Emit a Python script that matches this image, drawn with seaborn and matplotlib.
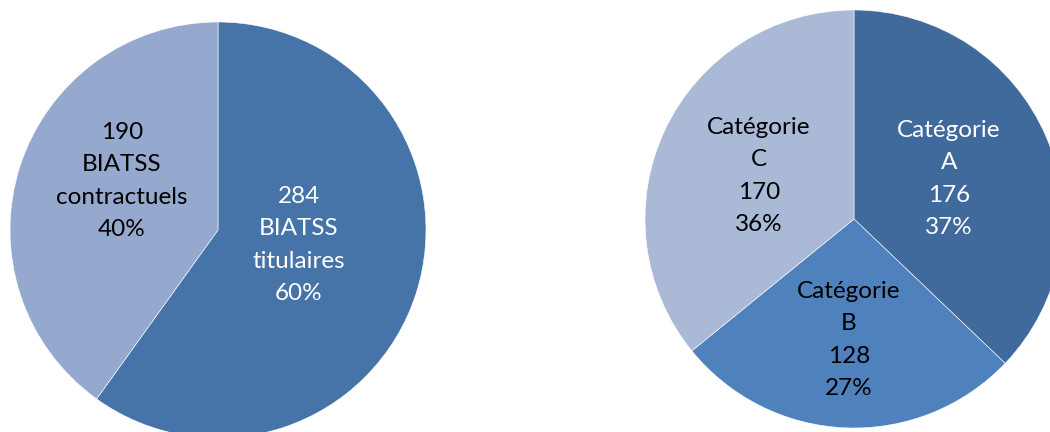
import matplotlib
matplotlib.use("Agg")
import matplotlib.pyplot as plt
import seaborn as sns

# Staff headcounts
statut_labels = ["BIATSS\ntitulaires", "BIATSS\ncontractuels"]
statut_values = [284, 190]
statut_colors = ["#4673A8", "#95A9CF"]
statut_text_colors = ["white", "black"]

categorie_labels = ["Catégorie\nA", "Catégorie\nB", "Catégorie\nC"]
categorie_values = [176, 128, 170]
categorie_colors = ["#416A9C", "#4F81BD", "#A9B9D6"]
categorie_text_colors = ["white", "black", "black"]

sns.set_theme(style="white")
plt.rcParams["font.family"] = ["Lato", "DejaVu Sans"]

W, H = 1050, 432
fig = plt.figure(figsize=(W / 100, H / 100), dpi=100)
ax = fig.add_axes([0, 0, 1, 1])
ax.set_xlim(0, W)
ax.set_ylim(0, H)
ax.set_aspect("equal")
ax.axis("off")


def draw_pie(values, labels, colors, text_colors, center, radius, label_pos,
             value_first):
    total = sum(values)
    ax.pie(values, colors=colors, startangle=90, counterclock=False,
           center=center, radius=radius, frame=True,
           wedgeprops=dict(edgecolor="white", linewidth=0.4))
    for v, lab, tc, (lx, ly) in zip(values, labels, text_colors, label_pos):
        pct = round(100 * v / total)
        txt = f"{v}\n{lab}\n{pct}%" if value_first else f"{lab}\n{v}\n{pct}%"
        ax.text(lx, H - ly, txt, ha="center", va="center", color=tc,
                fontsize=17.5, linespacing=1.68)


draw_pie(statut_values, statut_labels, statut_colors, statut_text_colors,
         center=(218, H - 230), radius=208,
         label_pos=[(299, 245), (122, 181)], value_first=True)
draw_pie(categorie_values, categorie_labels, categorie_colors,
         categorie_text_colors, center=(854, H - 219), radius=209,
         label_pos=[(949, 179), (849, 340), (759, 176)], value_first=False)

ax.set_xlim(0, W)
ax.set_ylim(0, H)
fig.savefig("out.png", dpi=100, facecolor="white")
